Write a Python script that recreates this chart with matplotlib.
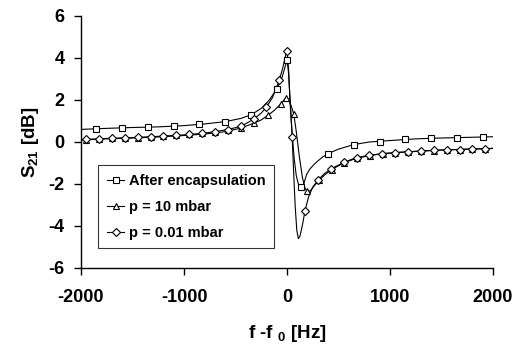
import matplotlib
matplotlib.use("Agg")
import matplotlib.pyplot as plt
from matplotlib.lines import Line2D

plt.rcParams["font.family"] = ["Liberation Sans", "DejaVu Sans"]
plt.rcParams["font.weight"] = "bold"
plt.rcParams["axes.unicode_minus"] = False
plt.rcParams["mathtext.fontset"] = "custom"
plt.rcParams["mathtext.rm"] = "Liberation Sans:bold"
plt.rcParams["mathtext.bf"] = "Liberation Sans:bold"

OUTNAME = "out.png"
DPI = 100
FIG_DIMS = [5.22, 3.46]

# measured points (markers)
enc_x = [-1850, -1600, -1350, -1100, -850, -600, -350, -100, 0, 140, 400, 650, 900, 1150, 1400, 1650, 1900]
enc_y = [0.63, 0.67, 0.70, 0.74, 0.84, 0.97, 1.29, 2.51, 3.89, -2.13, -0.55, -0.12, 0.01, 0.13, 0.19, 0.21, 0.24]

p10_x = [-1950, -1825, -1700, -1575, -1450, -1325, -1200, -1075, -950, -825, -700, -575, -450, -325,
         -185, -60, -10, 65, 195, 310, 435, 555, 680, 805, 930, 1050, 1175, 1300, 1425, 1550, 1675, 1800, 1925]
p10_y = [0.11, 0.14, 0.17, 0.19, 0.21, 0.25, 0.28, 0.31, 0.36, 0.41, 0.48, 0.57, 0.68, 0.89,
         1.27, 1.82, 2.10, 1.35, -2.35, -1.83, -1.31, -0.98, -0.77, -0.65, -0.55, -0.51, -0.48, -0.43, -0.41, -0.38, -0.36, -0.33, -0.31]

p001_x = [-1950, -1825, -1700, -1575, -1450, -1325, -1200, -1075, -950, -825, -700, -575, -450, -325,
          -200, -75, 0, 50, 175, 300, 425, 550, 675, 800, 925, 1050, 1175, 1300, 1425, 1550, 1675, 1800, 1925]
p001_y = [0.12, 0.15, 0.18, 0.19, 0.22, 0.26, 0.29, 0.32, 0.37, 0.42, 0.49, 0.59, 0.74, 1.08,
          1.66, 2.95, 4.35, 0.25, -3.27, -1.82, -1.29, -0.97, -0.74, -0.63, -0.56, -0.51, -0.48, -0.43, -0.40, -0.38, -0.36, -0.33, -0.32]

# fitted curves (lines)
enc_fit_x = [-2000, -1750, -1500, -1250, -1000, -800, -600, -450, -350, -250, -175, -100, -50, -20, 0,
             15, 30, 50, 70, 90, 110, 130, 145, 165, 190, 220, 260, 300, 350, 400, 500, 650, 800, 1000,
             1250, 1500, 1750, 2000]
enc_fit_y = [0.60, 0.65, 0.69, 0.72, 0.78, 0.86, 0.97, 1.12, 1.29, 1.60, 1.98, 2.51, 3.05, 3.55, 3.92,
             3.30, 2.00, 0.40, -0.80, -1.60, -2.00, -2.15, -2.15, -1.95, -1.55, -1.30, -1.08, -0.90, -0.70, -0.55, -0.34, -0.12, -0.00, 0.07,
             0.15, 0.19, 0.22, 0.25]

p10_fit_x = [-2000, -1750, -1500, -1250, -1000, -800, -600, -450, -325, -250, -185, -120, -60, -30, -10,
             10, 35, 65, 90, 120, 150, 175, 200, 230, 270, 310, 370, 435, 555, 680, 805, 930, 1100,
             1300, 1500, 1700, 2000]
p10_fit_y = [0.10, 0.15, 0.19, 0.24, 0.31, 0.38, 0.49, 0.66, 0.89, 1.05, 1.27, 1.52, 1.82, 2.00, 2.10,
             2.05, 1.80, 1.35, 0.50, -0.70, -1.70, -2.20, -2.40, -2.30, -2.05, -1.83, -1.55, -1.31, -0.98, -0.77, -0.65, -0.55, -0.49,
             -0.43, -0.38, -0.35, -0.30]

p001_fit_x = [-2000, -1750, -1500, -1250, -1000, -800, -600, -450, -325, -250, -200, -140, -75, -40, -15, 0,
              15, 30, 50, 65, 80, 95, 110, 125, 150, 175, 210, 250, 300, 360, 425, 550, 675, 800, 925,
              1100, 1300, 1500, 1700, 2000]
p001_fit_y = [0.11, 0.17, 0.21, 0.27, 0.34, 0.42, 0.57, 0.74, 1.08, 1.38, 1.66, 2.12, 2.95, 3.55, 4.10, 4.38,
              3.50, 1.90, 0.25, -1.50, -3.10, -4.20, -4.60, -4.50, -3.95, -3.27, -2.60, -2.15, -1.82, -1.52, -1.29, -0.97, -0.74, -0.63, -0.56,
              -0.49, -0.43, -0.38, -0.35, -0.31]

labels = ["After encapsulation", "p = 10 mbar", "p = 0.01 mbar"]
x_ticks = [-2000, -1000, 0, 1000, 2000]
y_ticks = [-6, -4, -2, 0, 2, 4, 6]

fig = plt.figure(figsize=FIG_DIMS, dpi=DPI)
ax = fig.add_axes([81/522, 1-268/346, (493-81)/522, (268-16)/346])

lw = 0.8
ax.plot(enc_fit_x, enc_fit_y, 'k-', lw=lw)
ax.plot(p10_fit_x, p10_fit_y, 'k-', lw=lw)
ax.plot(p001_fit_x, p001_fit_y, 'k-', lw=lw)

mk = dict(linestyle='none', markerfacecolor='white', markeredgecolor='black', markeredgewidth=0.8)
ax.plot(enc_x, enc_y, marker='s', markersize=4.5, **mk)
ax.plot(p10_x, p10_y, marker='^', markersize=5, **mk)
ax.plot(p001_x, p001_y, marker='D', markersize=3.8, **mk)

ax.set_xlim(-2000, 2000)
ax.set_ylim(-6, 6)
ax.set_xticks(x_ticks)
ax.set_yticks(y_ticks)
ax.spines['top'].set_visible(False)
ax.spines['right'].set_visible(False)
for s in ['left', 'bottom']:
	ax.spines[s].set_linewidth(1.0)
ax.tick_params(axis='both', direction='out', length=5, width=1.0, labelsize=13)
ax.tick_params(axis='x', pad=10)
ax.tick_params(axis='y', pad=7)

ax.set_xlabel(r'f -f $_{0}$ [Hz]', fontsize=13.5, fontweight='bold', labelpad=12)
ax.set_ylabel(r'S$_{21}$ [dB]', fontsize=13.5, fontweight='bold', labelpad=5)

handles = [
	Line2D([], [], color='k', lw=lw, marker='s', markersize=4.5, markerfacecolor='white', markeredgewidth=0.8),
	Line2D([], [], color='k', lw=lw, marker='^', markersize=5, markerfacecolor='white', markeredgewidth=0.8),
	Line2D([], [], color='k', lw=lw, marker='D', markersize=3.8, markerfacecolor='white', markeredgewidth=0.8),
]
leg = fig.legend(handles, labels, loc='upper left', bbox_to_anchor=(98/522, 1-165/346),
	borderaxespad=0, prop={'size': 10.5, 'weight': 'bold'}, handlelength=1.2, handletextpad=0.3,
	labelspacing=0.82, borderpad=0.6, fancybox=False, frameon=True)
leg.get_frame().set_edgecolor('black')
leg.get_frame().set_linewidth(0.8)

plt.savefig(OUTNAME, dpi=DPI)
